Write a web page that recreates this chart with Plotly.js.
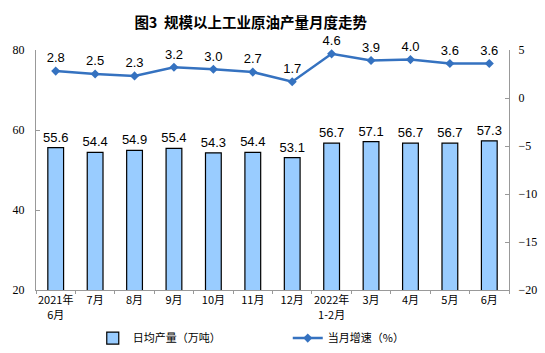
<!DOCTYPE html>
<html><head><meta charset="utf-8">
<script src="https://cdn.plot.ly/plotly-3.0.1.min.js"></script>
<style>body{margin:0}#c{width:545px;height:353px}</style>
</head><body><div id="c"></div>
<script>
const categories = ["2021年<br>6月","7月","8月","9月","10月","11月","12月","2022年<br>1-2月","3月","4月","5月","6月"];
const output = [55.6,54.4,54.9,55.4,54.3,54.4,53.1,56.7,57.1,56.7,56.7,57.3];
const growth = [2.8,2.5,2.3,3.2,3.0,2.7,1.7,4.6,3.9,4.0,3.6,3.6];
const barName = "日均产量（万吨）";
const lineName = "当月增速（%）";

const traces = [
 {type:'bar', x:categories, y:output, name:barName, width:0.4,
  marker:{color:'#99CCFF', line:{color:'#000000', width:1.2}},
  text:output.map(v=>v.toFixed(1)), textposition:'outside', cliponaxis:false, constraintext:'none',
  textfont:{family:'Liberation Sans, Arial', size:13, color:'#000'}},
 {type:'scatter', mode:'lines+markers+text', x:categories, y:growth, yaxis:'y2', name:lineName,
  line:{color:'#3572C0', width:2.5}, marker:{symbol:'diamond', size:7, color:'#3572C0'},
  text:growth.map(v=>v.toFixed(1)), textposition:'top center', cliponaxis:false,
  textfont:{family:'Liberation Sans, Arial', size:13, color:'#000'}}
];
const layout = {
 width:545, height:353, margin:{l:36, r:36, t:50, b:63, autoexpand:false},
 paper_bgcolor:'#fff', plot_bgcolor:'#fff',
 title:{text:'图3  规模以上工业原油产量月度走势', x:0.46, xanchor:'center', y:0.935, yanchor:'middle',
   font:{family:'Noto Sans CJK SC', size:14.5, color:'#000', weight:'bold'}},
 showlegend:true,
 legend:{orientation:'h', x:0.12, xanchor:'left', y:-0.14, yanchor:'top',
   font:{family:'Noto Sans CJK SC', size:11, color:'#000'}, entrywidth:150, traceorder:'normal'},
 xaxis:{type:'category', range:[-0.5, 11.5], showline:true, linecolor:'#999', linewidth:1, ticks:'outside', tickson:'boundaries',
   ticklen:3, tickcolor:'#999', showgrid:false, tickangle:0, automargin:false,
   tickfont:{family:'Noto Sans CJK SC', size:11, color:'#000'}},
 yaxis:{range:[20,80], dtick:20, showline:true, linecolor:'#999', ticks:'inside', ticklen:4, tickcolor:'#999',
   showgrid:false, zeroline:false, automargin:false, ticklabelstandoff:8,
   tickfont:{family:'Liberation Serif', size:12, color:'#000'}},
 yaxis2:{range:[-20,5], dtick:5, overlaying:'y', side:'right', showline:true, linecolor:'#999', ticks:'inside',
   ticklen:4, tickcolor:'#999', showgrid:false, zeroline:false, automargin:false, ticklabelstandoff:6,
   tickfont:{family:'Liberation Serif', size:12, color:'#000'}}
};
Plotly.newPlot('c', traces, layout, {displayModeBar:false});
</script></body></html>
